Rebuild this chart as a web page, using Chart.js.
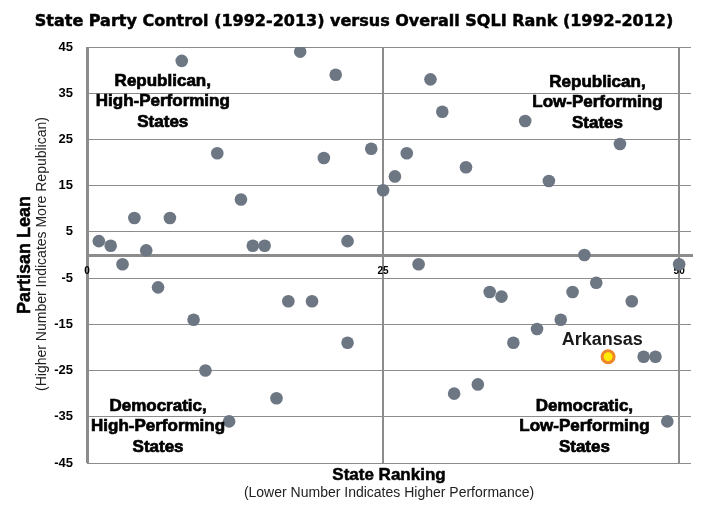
<!DOCTYPE html>
<html>
<head>
<meta charset="utf-8">
<script src="https://cdn.jsdelivr.net/npm/chart.js@4.4.1/dist/chart.umd.min.js"></script>
<style>
  html, body { margin: 0; padding: 0; background: #fff; }
  #wrap { width: 708px; height: 514px; }
</style>
</head>
<body>
<div id="wrap"><canvas id="chart" width="708" height="514"></canvas></div>
<script>
// state SQLI rank (x) and partisan lean (y), Arkansas kept apart
const STATE_RANK = [1, 2, 3, 4, 5, 6, 7, 8, 9, 10, 11, 12, 13, 14, 15, 16, 17, 18, 19, 20, 21, 22, 22,
  24, 25, 26, 27, 28, 29, 30, 31, 32, 33, 34, 35, 36, 37, 38, 39, 40, 41, 42, 43, 45, 46, 47, 48, 49, 50]
const PARTISAN_LEAN = [3, 2, -2, 8, 1, -7, 8, 42, -14, -25, 22, -36, 12, 2, 2, -31, -10, 44, -10, 21, 39, 3, -19,
  23, 14, 17, 22, -2, 38, 31, -30, 19, -28, -8, -9, -19, 29, -16, 16, -14, -8, 0, -6, 24, -10, -22, -22, -36, -2]
const ARKANSAS_RANK = [44]
const ARKANSAS_LEAN = [-22]

const X_TICKS = [0, 25, 50]
const Y_TICKS = [-45, -35, -25, -15, -5, 5, 15, 25, 35, 45]

const QUADRANTS = [
  { lines: ["Republican,", "High-Performing", "States"], x: 6.4, y: 33.2 },
  { lines: ["Republican,", "Low-Performing", "States"], x: 43.1, y: 33.0 },
  { lines: ["Democratic,", "High-Performing", "States"], x: 6.0, y: -37.1 },
  { lines: ["Democratic,", "Low-Performing", "States"], x: 42.0, y: -37.1 }
]

const GRID = "#8c8c8c"
const FONT = "'Liberation Sans', Arial, sans-serif"
const HEAVY = "'DejaVu Sans', sans-serif"

function heavyText(ctx, text, x, y) {
  ctx.fillText(text, x, y)
  ctx.strokeText(text, x, y)
}

const textPlugin = {
  id: "texts",
  afterDraw(chart) {
    const { ctx, scales } = chart
    const xs = scales.x
    const ys = scales.y
    ctx.save()
    ctx.fillStyle = "#000"
    ctx.strokeStyle = "#000"
    ctx.textAlign = "center"
    ctx.textBaseline = "middle"

    // title
    ctx.lineWidth = 0.5
    ctx.font = `bold 16px ${HEAVY}`
    heavyText(ctx, "State Party Control (1992-2013) versus Overall SQLI Rank (1992-2012)", 354, 22)

    // quadrant labels
    ctx.font = `bold 17px ${FONT}`
    ctx.lineWidth = 0.7
    QUADRANTS.forEach((q) => {
      const cx = xs.getPixelForValue(q.x)
      const cy = ys.getPixelForValue(q.y)
      q.lines.forEach((line, i) => heavyText(ctx, line, cx, cy + (i - 1) * 20.5))
    })

    // Arkansas label
    ctx.font = `bold 18px ${FONT}`
    ctx.fillStyle = "#1a1a1a"
    ctx.fillText("Arkansas", xs.getPixelForValue(43.5), ys.getPixelForValue(-18.4))

    // x axis title
    const midX = (chart.chartArea.left + chart.chartArea.right) / 2
    ctx.fillStyle = "#000"
    ctx.font = `bold 17px ${FONT}`
    ctx.lineWidth = 0.5
    heavyText(ctx, "State Ranking", midX, 475)
    ctx.font = `14px ${FONT}`
    ctx.fillStyle = "#222"
    ctx.fillText("(Lower Number Indicates Higher Performance)", midX, 493)

    // y axis title
    ctx.translate(0, 255)
    ctx.rotate(-Math.PI / 2)
    ctx.fillStyle = "#000"
    ctx.font = `bold 18px ${FONT}`
    heavyText(ctx, "Partisan Lean", 0, 25)
    ctx.font = `14px ${FONT}`
    ctx.fillStyle = "#222"
    ctx.fillText("(Higher Number Indicates More Republican)", 1, 42)
    ctx.restore()
  }
}

new Chart(document.getElementById("chart"), {
  type: "scatter",
  data: {
    datasets: [
      {
        label: "Arkansas",
        data: ARKANSAS_RANK.map((r, i) => ({ x: r, y: ARKANSAS_LEAN[i] })),
        backgroundColor: "#ffec00",
        borderColor: "#f0862a",
        borderWidth: 3,
        pointRadius: 6
      },
      {
        label: "States",
        data: STATE_RANK.map((r, i) => ({ x: r, y: PARTISAN_LEAN[i] })),
        backgroundColor: "#6d7784",
        borderColor: "#6d7784",
        borderWidth: 0,
        pointRadius: 6.3
      }
    ]
  },
  options: {
    responsive: false,
    devicePixelRatio: 1,
    animation: false,
    layout: { padding: { top: 47, right: 17, bottom: 51, left: 0 } },
    plugins: {
      legend: { display: false },
      tooltip: { enabled: false }
    },
    scales: {
      x: {
        type: "linear",
        min: 0,
        max: 51,
        position: { y: 0 },
        afterBuildTicks: (s) => { s.ticks = X_TICKS.map((v) => ({ value: v })) },
        grid: {
          color: GRID,
          lineWidth: (c) => (c.tick && c.tick.value === 0 ? 3 : 2),
          drawTicks: false
        },
        border: { display: true, color: GRID, width: 3 },
        ticks: {
          autoSkip: false,
          maxRotation: 0,
          padding: 10,
          color: "#000",
          font: { family: FONT, size: 10, weight: "bold" }
        }
      },
      y: {
        min: -45,
        max: 45,
        afterBuildTicks: (s) => { s.ticks = Y_TICKS.map((v) => ({ value: v })) },
        afterFit: (s) => { s.width = 87 },
        grid: { color: GRID, lineWidth: 1, drawTicks: false },
        border: { display: false },
        ticks: {
          padding: 14,
          color: "#000",
          font: { family: FONT, size: 13, weight: "bold" }
        }
      }
    }
  },
  plugins: [textPlugin]
})
</script>
</body>
</html>
